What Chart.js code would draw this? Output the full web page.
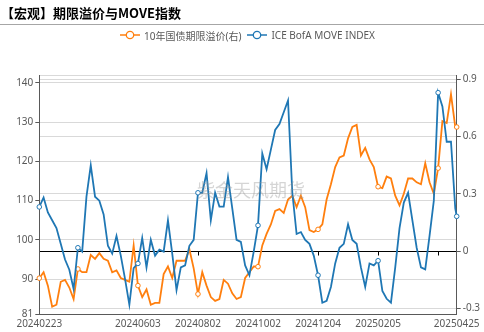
<!DOCTYPE html>
<html>
<head>
<meta charset="utf-8">
<script src="https://cdn.jsdelivr.net/npm/chart.js@4"></script>
<style>
  body { margin: 0; background: #fff; }
  #wrap { position: relative; width: 484px; height: 332px; overflow: hidden; }
  #title { position: absolute; left: 1px; top: 4px; font: bold 13px 'Noto Sans CJK SC', sans-serif; color: #000; line-height: 18px; white-space: nowrap; }
  #rule { position: absolute; left: 0; top: 24px; width: 484px; border-top: 1.5px solid #a6a6a6; }
  #legend { position: absolute; top: 28px; left: 120px; height: 14px; display: flex; align-items: center; font: 10px 'Noto Sans', 'Noto Sans CJK SC', sans-serif; color: #595959; white-space: nowrap; }
  #legend span.item { display: flex; align-items: center; margin-right: 6px; }
  #legend svg { margin-right: 4px; }
  #wm { position: absolute; left: 197px; top: 176px; font: 18px 'Noto Sans CJK SC', sans-serif; color: rgba(150,150,150,0.4); white-space: nowrap; }
  canvas { position: absolute; left: 0; top: 0; }
</style>
</head>
<body>
<div id="wrap">
  <canvas id="chart" width="484" height="332"></canvas>
  <div id="title">【宏观】期限溢价与MOVE指数</div>
  <div id="rule"></div>
  <div id="legend"></div>
  <div id="wm">紫金天风期货</div>
</div>
<script>
// 交易日(美债市场): 起止日期与休市日
const startDate = '20240223';
const endDate = '20250425';
const holidays = ['20240329', '20240527', '20240619', '20240704', '20240902', '20241014',
  '20241111', '20241128', '20241225', '20250101', '20250120', '20250217', '20250418'];

// 横轴显示的日期
const tickLabels = ['20240223', '20240603', '20240802', '20241002', '20241204', '20250205', '20250425'];
// 带空心点的日期位置(交易日序号)
const markerIdx = [0, 27, 69, 111, 153, 195, 237, 279, 292];
const zeroTickIdx = [111, 195, 237, 279];

// ICE BofA MOVE INDEX (左轴), 每3个交易日读一次
const moveVals = [108.4, 110.8, 107, 105, 103, 99, 95, 92.4, 87.5, 98,
  97, 111, 119, 111, 110, 106.5, 98.5, 96.5, 101, 96,
  90, 83.5, 92.8, 94, 100.5, 93, 100, 96, 97.5, 97,
  105, 96.5, 87.2, 93, 93.5, 98.5, 100, 112, 112, 117,
  105, 112, 108.5, 108.5, 116, 108, 100, 99.5, 93.5, 91,
  97, 103.7, 122, 118, 123, 128, 129.5, 132.5, 135.5, 112,
  101.5, 102, 100, 99, 96, 91, 84, 84.5, 88, 94,
  98, 99, 104, 100, 99, 93, 88, 94, 93.5, 94.7,
  87, 85, 84, 93, 103, 109.5, 112, 105, 98, 93,
  92.5, 101, 110, 137.5, 134, 125, 125, 108, 106];

// 10年国债期限溢价 (右轴)
const termVals = [-0.141, -0.11, -0.18, -0.29, -0.28, -0.16, -0.15, -0.19, -0.25, -0.093,
  -0.11, -0.11, -0.02, -0.04, -0.01, -0.04, -0.05, -0.11, -0.1, -0.14,
  -0.15, -0.16, 0.03, -0.18, -0.24, -0.2, -0.28, -0.27, -0.27, -0.12,
  -0.08, -0.14, -0.05, -0.05, -0.05, 0.01, -0.09, -0.224, -0.11, -0.18,
  -0.24, -0.26, -0.25, -0.15, -0.17, -0.22, -0.25, -0.24, -0.14, -0.11,
  -0.08, -0.081, 0.03, 0.09, 0.14, 0.21, 0.22, 0.2, 0.27, 0.29,
  0.23, 0.29, 0.23, 0.11, 0.1, 0.114, 0.14, 0.27, 0.35, 0.44,
  0.49, 0.5, 0.59, 0.65, 0.66, 0.5, 0.54, 0.48, 0.44, 0.337,
  0.33, 0.39, 0.38, 0.29, 0.24, 0.3, 0.38, 0.38, 0.36, 0.35,
  0.46, 0.36, 0.3, 0.434, 0.68, 0.67, 0.82, 0.65, 0.649];

const blue = '#1f77b4';
const orange = '#ff7f0e';

function toDate(s) { return new Date(+s.slice(0, 4), +s.slice(4, 6) - 1, +s.slice(6, 8)); }
function fmt(d) {
  return d.getFullYear() + String(d.getMonth() + 1).padStart(2, '0') + String(d.getDate()).padStart(2, '0');
}
const dates = [];
for (let d = toDate(startDate); d <= toDate(endDate); d.setDate(d.getDate() + 1)) {
  const s = fmt(d);
  if (d.getDay() !== 0 && d.getDay() !== 6 && !holidays.includes(s)) dates.push(s);
}
const sampleIdx = dates.map((d, i) => i).filter(i => i % 3 === 0 || i === dates.length - 1);

const pts = vals => sampleIdx.map((i, k) => ({ x: dates[i], y: vals[k] }));
const markerRadius = ctx => markerIdx.includes(sampleIdx[ctx.dataIndex]) ? 2.3 : 0;

// 图例
const legendItems = [['10年国债期限溢价(右)', orange], ['ICE BofA MOVE INDEX', blue]];
document.getElementById('legend').innerHTML = legendItems.map(([t, c]) =>
  `<span class="item"><svg width="20" height="10"><line x1="0" y1="5" x2="20" y2="5" stroke="${c}" stroke-width="1.5"/>` +
  `<circle cx="10" cy="5" r="3.7" fill="#fff" stroke="${c}" stroke-width="1.3"/></svg>${t}</span>`).join('');

// 零线上的刻度
const zeroTicks = {
  id: 'zeroTicks',
  afterDatasetsDraw(chart) {
    const { ctx, scales } = chart;
    const y = Math.round(scales.y1.getPixelForValue(0)) + 0.5;
    ctx.save();
    ctx.strokeStyle = '#000';
    ctx.lineWidth = 1;
    zeroTickIdx.forEach(i => {
      const x = Math.round(scales.x.getPixelForValue(i)) + 0.5;
      ctx.beginPath(); ctx.moveTo(x, y); ctx.lineTo(x, y + 4); ctx.stroke();
    });
    ctx.restore();
  }
};

const tickFont = { family: "'Noto Sans', sans-serif", size: 10 };

new Chart(document.getElementById('chart'), {
  type: 'line',
  data: {
    labels: dates,
    datasets: [
      {
        label: 'ICE BofA MOVE INDEX',
        data: pts(moveVals),
        yAxisID: 'y',
        borderColor: blue,
        backgroundColor: '#fff',
        borderWidth: 1.8,
        pointRadius: markerRadius,
        pointBorderWidth: 1,
        pointBackgroundColor: '#fff',
        tension: 0,
        order: 0
      },
      {
        label: '10年国债期限溢价(右)',
        data: pts(termVals),
        yAxisID: 'y1',
        borderColor: orange,
        backgroundColor: '#fff',
        borderWidth: 1.8,
        pointRadius: markerRadius,
        pointBorderWidth: 1,
        pointBackgroundColor: '#fff',
        tension: 0,
        order: 1
      }
    ]
  },
  options: {
    responsive: false,
    animation: false,
    layout: { padding: { top: 75, left: 0, right: 0, bottom: 0 } },
    plugins: { legend: { display: false }, tooltip: { enabled: false } },
    scales: {
      x: {
        type: 'category',
        offset: false,
        grid: { display: false, drawTicks: false },
        border: { display: false },
        ticks: {
          autoSkip: false, maxRotation: 0, padding: 4, color: '#595959', font: tickFont,
          callback: (v, i) => tickLabels.includes(dates[i]) ? dates[i] : null
        },
        afterFit: s => { s.height = 17.5; }
      },
      y: {
        position: 'left',
        min: 81, max: 142,
        afterBuildTicks: s => { s.ticks = [81, 90, 100, 110, 120, 130, 140, 142].map(v => ({ value: v })); },
        ticks: { color: '#595959', font: tickFont, padding: 2, callback: v => v === 142 ? '' : v },
        grid: {
          color: c => c.tick.value === 81 ? '#595959' : '#d9d9d9',
          tickColor: c => c.tick.value === 142 ? 'rgba(0,0,0,0)' : '#595959',
          tickLength: 4
        },
        border: { color: '#595959' },
        afterFit: s => { s.width = 39.3; }
      },
      y1: {
        position: 'right',
        min: -0.331, max: 0.921,
        afterBuildTicks: s => { s.ticks = [-0.3, 0, 0.3, 0.6, 0.9].map(v => ({ value: v })); },
        ticks: { color: '#595959', font: tickFont, padding: 2, callback: v => v === 0 ? '0' : v.toFixed(1) },
        grid: {
          color: c => c.tick.value === 0 ? '#000' : '#d9d9d9',
          tickColor: '#595959',
          tickLength: 4
        },
        border: { color: '#595959' },
        afterFit: s => { s.width = 27.3; }
      }
    }
  },
  plugins: [zeroTicks]
});
</script>
</body>
</html>
